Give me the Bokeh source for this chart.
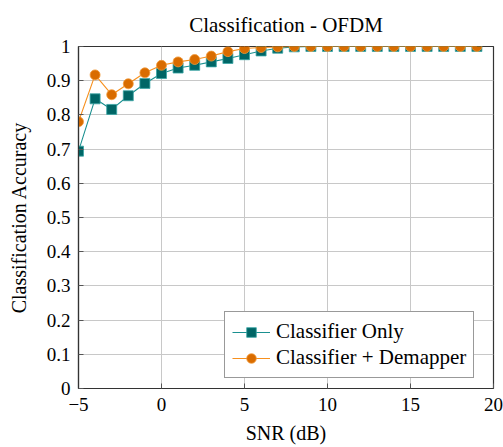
from bokeh.plotting import figure
from bokeh.models import Range1d, FixedTicker, Legend, LegendItem, ColumnDataSource
from bokeh.embed import file_html
from bokeh.resources import INLINE

snr = list(range(-5, 20))
classifier_only = [0.694, 0.847, 0.816, 0.856, 0.892, 0.921, 0.937, 0.945, 0.955,
                   0.965, 0.976, 0.987, 0.995, 0.999, 1.0, 1.0, 1.0, 1.0, 1.0, 1.0,
                   1.0, 1.0, 1.0, 1.0, 1.0]
classifier_demapper = [0.780, 0.917, 0.859, 0.891, 0.923, 0.945, 0.955, 0.962, 0.972,
                       0.985, 0.994, 0.997, 0.999, 1.0, 1.0, 1.0, 1.0, 1.0, 1.0, 1.0,
                       1.0, 1.0, 1.0, 1.0, 1.0]
x_ticks = [-5, 0, 5, 10, 15, 20]
y_ticks = [0, 0.1, 0.2, 0.3, 0.4, 0.5, 0.6, 0.7, 0.8, 0.9, 1.0]

FONT = "Liberation Serif"

p = figure(frame_width=415, frame_height=342, output_backend="svg", toolbar_location=None,
           x_range=Range1d(-5, 20), y_range=Range1d(0, 1),
           min_border_left=78, min_border_right=10, min_border_top=40,
           min_border_bottom=59, title="Classification - OFDM")
p.title.align = "center"
p.title.text_font = FONT
p.title.text_font_size = "21px"
p.title.text_font_style = "normal"
p.title.text_color = "black"
p.title.standoff = 20

p.outline_line_color = "#333333"
p.outline_line_width = 1.2

for ax in p.xaxis + p.yaxis:
    ax.major_label_text_font = FONT
    ax.major_label_text_font_size = "19px"
    ax.major_label_text_color = "black"
    ax.axis_label_text_font = FONT
    ax.axis_label_text_font_size = "20px"
    ax.axis_label_text_font_style = "normal"
    ax.axis_label_text_color = "black"
    ax.axis_line_color = "#333333"
    ax.axis_line_width = 1.2
    ax.major_tick_in = 5
    ax.major_tick_out = 0
    ax.major_tick_line_color = "#555555"
    ax.minor_tick_line_color = None

p.xaxis.ticker = FixedTicker(ticks=x_ticks)
p.yaxis.ticker = FixedTicker(ticks=y_ticks)
p.xaxis.axis_label = "SNR (dB)"
p.yaxis.axis_label = "Classification Accuracy"
p.xaxis.major_label_overrides = {-5: "\u22125"}
p.yaxis.major_label_overrides = {0: "0", 1: "1"}
p.xaxis.major_label_standoff = 9
p.yaxis.major_label_standoff = 8
p.xaxis.axis_label_standoff = 8
p.yaxis.axis_label_standoff = 14

p.xgrid.ticker = FixedTicker(ticks=x_ticks)
p.ygrid.ticker = FixedTicker(ticks=y_ticks)
p.grid.grid_line_color = "#c8c8c8"
p.grid.grid_line_width = 1

src = ColumnDataSource(dict(x=snr, a=classifier_only, b=classifier_demapper))

teal_line = "#1a9090"
teal_fill = "#006666"
orange_line = "#f7901e"
orange_fill = "#d96c00"

l1 = p.line("x", "a", source=src, line_color=teal_line, line_width=1.1)
m1 = p.scatter("x", "a", source=src, marker="square", size=10,
               fill_color=teal_fill, line_color="#3aa6a6", line_width=0.8)
l2 = p.line("x", "b", source=src, line_color=orange_line, line_width=1.1)
m2 = p.scatter("x", "b", source=src, marker="circle", size=10,
               fill_color=orange_fill, line_color="#f39a3a", line_width=0.8)

legend = Legend(items=[LegendItem(label="Classifier Only", renderers=[l1, m1]),
                       LegendItem(label="Classifier + Demapper", renderers=[l2, m2])],
                location=(146, 10))
legend.label_text_font = FONT
legend.label_text_font_size = "21px"
legend.label_text_color = "black"
legend.border_line_color = "#333333"
legend.border_line_width = 1
legend.glyph_width = 38
legend.glyph_height = 24
legend.label_height = 24
legend.spacing = 1
legend.padding = 7
legend.margin = 0
legend.label_standoff = 6
legend.background_fill_alpha = 1
p.add_layout(legend)

open("out.html", "w").write(file_html(p, INLINE))
